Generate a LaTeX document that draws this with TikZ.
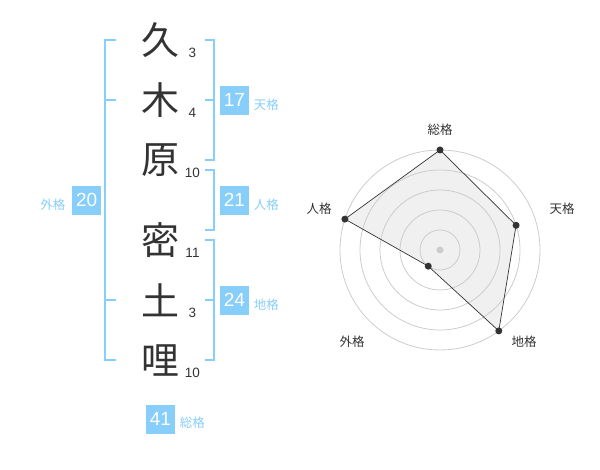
\documentclass[tikz,border=0pt]{standalone}
\usepackage{fontspec}
\setmainfont{Liberation Sans}
\newfontfamily\jpfont{Noto Sans CJK JP}
\usepackage{tikz}
\usetikzlibrary{positioning, calc}
\definecolor{sky}{RGB}{135, 206, 250}
\definecolor{ink}{RGB}{51, 51, 51}
\definecolor{grid}{RGB}{204, 204, 204}
\definecolor{area}{RGB}{240, 240, 240}
\tikzstyle{kanji} = [inner sep=0pt, text=ink, font=\jpfont\fontsize{38}{38}\selectfont]
\tikzstyle{strokes} = [inner sep=0pt, text=ink, font=\fontsize{13.5}{14}\selectfont]
\tikzstyle{score} = [rectangle, fill=sky, text=white, minimum width=29pt, minimum height=29pt, inner sep=0pt, font=\fontsize{19}{20}\selectfont]
\tikzstyle{kaku} = [inner sep=0pt, text=sky, font=\jpfont\fontsize{12.5}{13}\selectfont]
\tikzstyle{bracket} = [draw=sky, line width=2pt]
\tikzstyle{ring} = [draw=grid, line width=0.8pt]
\tikzstyle{vertex} = [circle, fill=ink, inner sep=0pt, minimum size=7pt]
\tikzstyle{axis label} = [inner sep=0pt, text=ink, font=\jpfont\fontsize{12.5}{13}\selectfont]

\begin{document}
\begin{tikzpicture}[x=1pt, y=-1pt]
    \useasboundingbox (0,0) rectangle (600,470);

    % Name
    \node[kanji] (c1) at (160,40) {久};
    \node[kanji] (c2) at (160,100) {木};
    \node[kanji] (c3) at (160,160) {原};
    \node[kanji] (c4) at (160,240) {密};
    \node[kanji] (c5) at (160,300) {土};
    \node[kanji] (c6) at (160,360) {哩};

    % Stroke counts
    \node[strokes] (s1) at (192.5,52.7) {3};
    \node[strokes] (s2) at (192.5,113.3) {4};
    \node[strokes] (s3) at (192.5,172.7) {10};
    \node[strokes] (s4) at (192.5,252.7) {11};
    \node[strokes] (s5) at (192.5,312.7) {3};
    \node[strokes] (s6) at (192.5,372.7) {10};

    % Brackets
    \draw[bracket] (116,40) -- (105,40) -- (105,360) -- (116,360);
    \draw[bracket] (105,100) -- (116,100);
    \draw[bracket] (105,300) -- (116,300);
    \draw[bracket] (205,40) -- (214,40) -- (214,160) -- (205,160);
    \draw[bracket] (205,100) -- (214,100);
    \draw[bracket] (205,170) -- (214,170) -- (214,230) -- (205,230);
    \draw[bracket] (205,240) -- (214,240) -- (214,360) -- (205,360);
    \draw[bracket] (205,300) -- (214,300);

    % Scores
    \node[score] (tenkaku) at (234.5,100.3) {17};
    \node[kaku, right=4.5pt of tenkaku, yshift=-4pt] (tenkaku-l) {天格};
    \node[score] (jinkaku) at (234.5,200.3) {21};
    \node[kaku, right=4.5pt of jinkaku, yshift=-4pt] (jinkaku-l) {人格};
    \node[score] (chikaku) at (234.5,300.3) {24};
    \node[kaku, right=4.5pt of chikaku, yshift=-4pt] (chikaku-l) {地格};
    \node[score] (gaikaku) at (86.7,200.3) {20};
    \node[kaku, left=6.5pt of gaikaku, yshift=-4pt] (gaikaku-l) {外格};
    \node[score] (soukaku) at (160.5,419) {41};
    \node[kaku, right=4.5pt of soukaku, yshift=-4pt] (soukaku-l) {総格};

    % Radar
    \coordinate (o) at (440,250);
    \coordinate (p-sou) at ($(o)+(-90:100)$);
    \coordinate (p-ten) at ($(o)+(-18:80)$);
    \coordinate (p-chi) at ($(o)+(54:100)$);
    \coordinate (p-gai) at ($(o)+(126:20)$);
    \coordinate (p-jin) at ($(o)+(-162:100)$);
    \fill[area] (p-sou) -- (p-ten) -- (p-chi) -- (p-gai) -- (p-jin) -- cycle;
    \foreach \r in {20,40,...,100}
        \draw[ring] (o) circle[radius=\r pt];
    \fill[grid] (o) circle[radius=3.5pt];
    \draw[ink, line width=0.7pt] (p-sou) -- (p-ten) -- (p-chi) -- (p-gai) -- (p-jin) -- cycle;
    \foreach \p in {sou,ten,chi,gai,jin}
        \node[vertex] (v-\p) at (p-\p) {};

    % Axis labels
    \node[axis label] (l-sou) at (440,130) {総格};
    \node[axis label] (l-ten) at (562,209) {天格};
    \node[axis label] (l-chi) at (524,342) {地格};
    \node[axis label] (l-gai) at (352,342) {外格};
    \node[axis label] (l-jin) at (319,209) {人格};
\end{tikzpicture}
\end{document}
